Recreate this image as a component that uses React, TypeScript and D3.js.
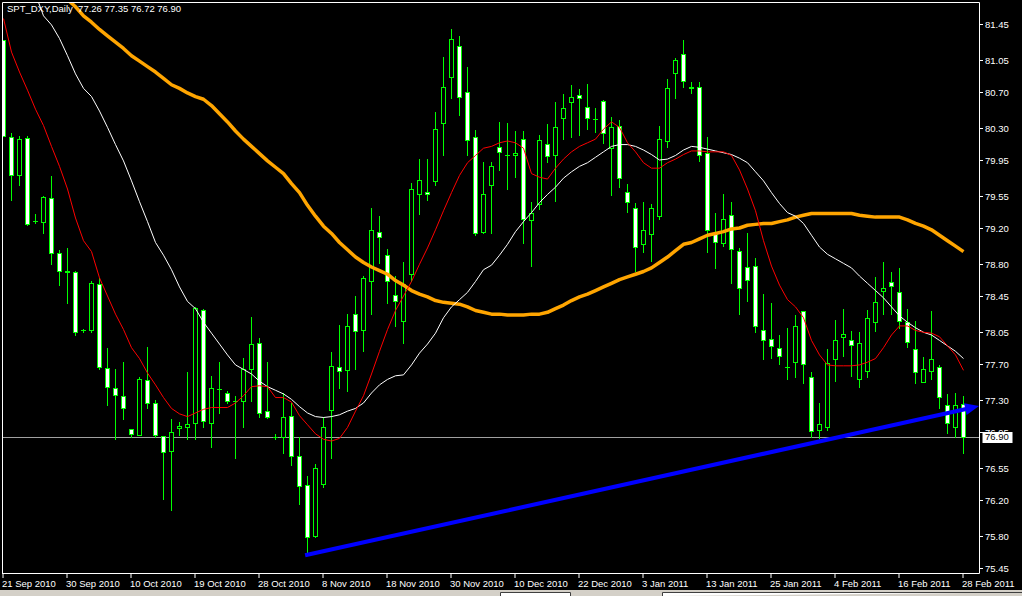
import React, { useEffect, useRef } from 'react';
import * as d3 from 'd3';

// daily bars, 21 Sep 2010 .. 28 Feb 2011 (MT4 counts Sunday bars too)
const opens = [
  81.27, 80.2, 79.79, 80.19, 79.28, 79.27, 79.53, 78.92, 78.73, 78.72,
  78.07, 78.07, 78.58, 77.66, 77.44, 77.35, 76.98, 76.92, 77.52, 77.27,
  76.91, 76.74, 76.99, 77.01, 77.05, 78.3, 77.05, 77.42, 77.38, 77.29,
  77.29, 77.64, 77.93, 77.18, 76.89, 76.89, 77.13, 76.68, 76.36, 75.8,
  76.38, 77.19, 77.67, 77.63, 78.25, 78.08, 78.62, 79.16, 78.9, 78.46,
  78.17, 78.69, 79.58, 79.6, 79.72, 80.36, 80.87, 81.21, 80.7, 80.2,
  79.16, 79.67, 80.09, 80.0, 80.0, 80.18, 79.29, 79.47, 80.13, 80.0,
  80.41, 80.59, 80.67, 80.54, 80.4, 80.6, 80.08, 80.32, 79.6, 79.42,
  79.02, 79.13, 79.33, 80.16, 80.91, 81.12, 80.74, 80.75, 80.03, 79.15,
  79.03, 79.34, 78.95, 78.77, 78.78, 78.08, 77.98, 77.88, 77.67, 77.72,
  78.28, 77.56, 76.97, 77.0, 77.76, 78.0, 77.96, 77.54, 77.62, 78.16,
  78.5, 78.6, 78.49, 78.16, 77.87, 77.5, 77.62, 77.67, 77.25, 77.0,
  77.26,
];
const highs = [
  81.27, 80.25, 80.21, 80.21, 79.35, 79.55, 79.77, 78.96, 78.98, 78.73,
  78.09, 78.61, 78.65, 77.88, 77.65, 77.72, 76.98, 77.56, 77.89, 77.3,
  76.91, 77.09, 77.06, 77.61, 78.33, 78.31, 77.57, 77.72, 77.4, 77.35,
  77.77, 78.22, 77.99, 77.72, 76.93, 77.38, 77.27, 76.9, 76.46, 76.6,
  77.11, 77.83, 78.13, 78.25, 78.45, 78.67, 79.42, 79.33, 78.97, 78.67,
  78.83, 79.7, 79.96, 79.96, 80.48, 81.09, 81.4, 81.32, 80.98, 80.28,
  79.93, 79.93, 80.37, 80.36, 80.27, 80.27, 79.49, 80.23, 80.35, 80.59,
  80.68, 80.78, 80.73, 80.79, 80.52, 80.61, 80.42, 80.39, 79.69, 79.48,
  79.49, 79.46, 80.32, 80.84, 81.07, 81.27, 80.81, 80.81, 80.2, 79.37,
  79.57, 79.49, 78.98, 79.14, 78.87, 78.47, 78.37, 78.02, 78.1, 78.24,
  78.29, 77.61, 77.27, 77.86, 78.18, 78.31, 78.06, 78.05, 78.3, 78.66,
  78.83, 78.71, 78.76, 78.31, 78.17, 77.78, 78.28, 77.69, 77.37, 77.38,
  77.35,
];
const lows = [
  80.21, 79.51, 79.67, 79.23, 79.25, 79.14, 78.8, 78.57, 78.37, 78.02,
  78.05, 78.05, 77.65, 77.25, 76.87, 77.09, 76.89, 76.92, 77.21, 76.89,
  76.21, 76.09, 76.92, 76.87, 76.87, 77.01, 76.78, 77.16, 77.27, 76.66,
  77.0, 77.29, 77.12, 77.1, 76.87, 76.72, 76.59, 76.16, 75.61, 75.79,
  76.34, 76.66, 77.44, 77.4, 77.64, 77.84, 78.25, 78.81, 78.37, 78.12,
  77.93, 78.62, 79.35, 79.51, 79.67, 80.0, 80.63, 80.45, 80.0, 79.12,
  79.14, 79.15, 79.84, 79.63, 79.76, 79.04, 78.78, 79.41, 79.93, 79.5,
  80.18, 80.2, 80.23, 80.29, 80.26, 80.14, 79.56, 79.65, 79.38, 78.73,
  78.94, 78.84, 79.3, 80.09, 80.63, 80.76, 80.69, 79.94, 78.94, 78.76,
  79.0, 78.59, 78.25, 78.39, 78.05, 77.76, 77.77, 77.7, 77.53, 77.56,
  77.49, 76.9, 76.88, 76.97, 77.51, 77.79, 77.57, 77.45, 77.56, 78.06,
  78.25, 78.25, 78.1, 77.89, 77.49, 77.5, 77.53, 77.21, 76.94, 76.89,
  76.72,
];
const closes = [
  80.21, 79.78, 80.18, 79.24, 79.28, 79.54, 78.92, 78.73, 78.72, 78.05,
  78.07, 78.59, 77.67, 77.45, 77.36, 77.21, 76.93, 77.53, 77.27, 76.92,
  76.73, 76.95, 77.02, 77.04, 78.32, 77.07, 77.43, 77.42, 77.29, 77.29,
  77.64, 77.92, 77.16, 77.12, 76.89, 77.12, 76.68, 76.35, 75.79, 76.55,
  77.0, 77.68, 77.62, 78.12, 78.06, 78.65, 79.18, 79.1, 78.61, 78.39,
  78.58, 79.63, 79.73, 79.58, 80.29, 80.75, 81.28, 80.65, 80.17, 79.15,
  79.58, 79.88, 80.04, 80.0, 80.03, 79.3, 79.37, 80.17, 79.99, 80.31,
  80.52, 80.65, 80.63, 80.41, 80.4, 80.25, 80.31, 79.75, 79.49, 78.99,
  79.18, 79.42, 80.18, 80.74, 81.05, 80.82, 80.76, 80.0, 79.18, 79.05,
  79.3, 78.97, 78.54, 78.63, 78.12, 77.97, 77.9, 77.79, 77.67, 78.12,
  77.7, 76.96, 77.04, 77.71, 77.97, 78.03, 77.91, 77.93, 78.21, 78.38,
  78.54, 78.56, 78.17, 77.94, 77.61, 77.64, 77.76, 77.34, 77.05, 77.25,
  76.9,
];

// moving averages (red fast, white middle, orange slow)
const fastMa = [
  81.51, 81.14, 80.92, 80.72, 80.51, 80.33, 80.1, 79.88, 79.63, 79.31,
  79.06, 78.94, 78.65, 78.45, 78.25, 78.08, 77.88, 77.76, 77.6, 77.47,
  77.33, 77.21, 77.15, 77.12, 77.16, 77.2, 77.22, 77.22, 77.22, 77.27,
  77.35, 77.45, 77.46, 77.45, 77.33, 77.33, 77.28, 77.13, 77.03, 76.93,
  76.87, 76.85, 76.88, 77.0, 77.18, 77.35, 77.59, 77.84, 78.08, 78.29,
  78.45, 78.61, 78.8, 78.98, 79.18, 79.39, 79.59, 79.78, 79.92, 80.0,
  80.08, 80.1, 80.14, 80.16, 80.14, 80.08, 79.8, 79.76, 79.74, 79.86,
  79.96, 80.04, 80.1, 80.14, 80.18, 80.29, 80.37, 80.31, 80.14, 80.04,
  79.92, 79.86, 79.86, 79.92, 79.96, 80.01, 80.05, 80.05, 80.04, 80.04,
  80.04, 80.0, 79.84, 79.63, 79.39, 79.06, 78.78, 78.57, 78.41, 78.33,
  78.21, 77.96, 77.8, 77.69, 77.68, 77.68, 77.68, 77.69, 77.72, 77.76,
  77.88, 78.02, 78.12, 78.12, 78.07, 78.05, 78.04, 78.0, 77.9, 77.8,
  77.63,
];
const midMa: (number | null)[] = [
  null, null, null, null, 81.78, 81.54, 81.44, 81.29, 81.1, 80.9,
  80.74, 80.65, 80.49, 80.31, 80.12, 79.94, 79.72, 79.49, 79.27, 79.04,
  78.9, 78.74, 78.55, 78.39, 78.31, 78.16, 78.04, 77.92, 77.8, 77.69,
  77.64, 77.59, 77.51, 77.45, 77.41, 77.37, 77.31, 77.23, 77.16, 77.12,
  77.11, 77.12, 77.14, 77.18, 77.21, 77.27, 77.38, 77.47, 77.53, 77.57,
  77.58, 77.69, 77.82, 77.92, 78.04, 78.21, 78.33, 78.41, 78.49, 78.61,
  78.74, 78.79, 78.9, 79.02, 79.16, 79.27, 79.37, 79.48, 79.57, 79.65,
  79.75, 79.82, 79.88, 79.92, 79.98, 80.04, 80.1, 80.12, 80.12, 80.1,
  80.06, 80.01, 79.95, 79.96, 80.0, 80.06, 80.1, 80.09, 80.07, 80.05,
  80.03, 80.01, 79.97, 79.92, 79.82, 79.72, 79.59, 79.47, 79.37, 79.33,
  79.25, 79.12, 78.99, 78.91, 78.86, 78.81, 78.76, 78.67, 78.59, 78.51,
  78.43, 78.33, 78.23, 78.16, 78.1, 78.05, 78.02, 77.96, 77.9, 77.84,
  77.76,
];
const slowMa: (number | null)[] = [
  null, null, null, null, null, null, null, null, 81.72, 81.64,
  81.54, 81.47, 81.39, 81.32, 81.25, 81.18, 81.1, 81.04, 80.98, 80.92,
  80.85, 80.78, 80.74, 80.69, 80.65, 80.62, 80.55, 80.46, 80.37, 80.27,
  80.18, 80.1, 80.02, 79.94, 79.87, 79.8, 79.69, 79.59, 79.45, 79.33,
  79.22, 79.14, 79.04, 78.96, 78.88, 78.82, 78.77, 78.73, 78.69, 78.62,
  78.57, 78.51, 78.47, 78.44, 78.4, 78.38, 78.37, 78.36, 78.33, 78.29,
  78.27, 78.25, 78.25, 78.24, 78.24, 78.24, 78.25, 78.25, 78.27, 78.31,
  78.35, 78.4, 78.44, 78.47, 78.51, 78.55, 78.59, 78.63, 78.66, 78.69,
  78.72, 78.76, 78.82, 78.88, 78.95, 79.02, 79.04, 79.08, 79.12, 79.14,
  79.16, 79.19, 79.2, 79.23, 79.24, 79.25, 79.25, 79.27, 79.29, 79.32,
  79.34, 79.36, 79.36, 79.36, 79.36, 79.36, 79.36, 79.34, 79.33, 79.32,
  79.32, 79.32, 79.32, 79.29, 79.25, 79.22, 79.18, 79.12, 79.06, 79.0,
  78.94,
];

// one date label every 8 bars
const dateLabels = [
  '21 Sep 2010', '30 Sep 2010', '10 Oct 2010', '19 Oct 2010',
  '28 Oct 2010', '8 Nov 2010', '18 Nov 2010', '30 Nov 2010',
  '10 Dec 2010', '22 Dec 2010', '3 Jan 2011', '13 Jan 2011',
  '25 Jan 2011', '4 Feb 2011', '16 Feb 2011', '28 Feb 2011',
];
const priceTicks = [
  81.45, 81.05, 80.7, 80.3, 79.95, 79.55, 79.2, 78.8, 78.45,
  78.05, 77.7, 77.3, 76.95, 76.55, 76.2, 75.8, 75.45,
];

// hand drawn trend line: [bar, price]
const trendLine: [number, number][] = [
  [37.7, 75.59],
  [120.6, 77.21],
];
const bidPrice = 76.9;
const header = 'SPT_DXY,Daily  77.26 77.35 76.72 76.90';

const FONT = '"Liberation Sans", Arial, sans-serif';

const App: React.FC = () => {
  const svgRef = useRef<SVGSVGElement>(null);

  useEffect(() => {
    if (!svgRef.current) return;
    const svg = d3.select(svgRef.current);
    svg.selectAll('*').remove();

    const width = 1022;
    const height = 596;

    const xScale = d3.scaleLinear().domain([0, 120]).range([3.5, 963.5]);
    const yScale = d3.scaleLinear().domain([75.45, 81.45]).range([568, 24]);
    const py = (v: number) => Math.round(yScale(v)) + 0.5;

    svg.append('rect').attr('width', width).attr('height', height).attr('fill', '#000');

    svg
      .append('defs')
      .append('clipPath')
      .attr('id', 'plot-clip')
      .append('rect')
      .attr('x', 3)
      .attr('y', 3)
      .attr('width', 976)
      .attr('height', 570);

    const plot = svg.append('g').attr('clip-path', 'url(#plot-clip)');

    // bid line
    plot
      .append('line')
      .attr('x1', 2)
      .attr('x2', 980)
      .attr('y1', py(bidPrice))
      .attr('y2', py(bidPrice))
      .attr('stroke', '#a0a0a0')
      .attr('stroke-width', 1);

    // ### Candles
    const candles = plot.append('g');
    d3.range(opens.length).forEach(i => {
      const cx = xScale(i);
      const o = opens[i];
      const c = closes[i];
      candles
        .append('line')
        .attr('x1', cx)
        .attr('x2', cx)
        .attr('y1', Math.round(yScale(highs[i])))
        .attr('y2', Math.round(yScale(lows[i])) + 1)
        .attr('stroke', '#00ff00')
        .attr('stroke-width', 1);

      const top = Math.round(yScale(Math.max(o, c)));
      const bottom = Math.round(yScale(Math.min(o, c)));
      if (bottom - top < 1) {
        candles
          .append('line')
          .attr('x1', cx - 2.5)
          .attr('x2', cx + 2.5)
          .attr('y1', top + 0.5)
          .attr('y2', top + 0.5)
          .attr('stroke', '#00ff00')
          .attr('stroke-width', 1);
      } else {
        candles
          .append('rect')
          .attr('x', cx - 2)
          .attr('y', top + 0.5)
          .attr('width', 4)
          .attr('height', bottom - top)
          .attr('fill', c > o ? '#000' : '#fff')
          .attr('stroke', '#00ff00')
          .attr('stroke-width', 1);
      }
    });

    // ### Moving averages
    const maLine = d3
      .line<number | null>()
      .defined(d => d !== null)
      .x((_, i) => xScale(i))
      .y(d => yScale(d as number));

    plot
      .append('path')
      .datum(slowMa)
      .attr('fill', 'none')
      .attr('stroke', '#ffa500')
      .attr('stroke-width', 3.5)
      .attr('stroke-linejoin', 'round')
      .attr('d', maLine);

    plot
      .append('path')
      .datum(midMa)
      .attr('fill', 'none')
      .attr('stroke', '#ffffff')
      .attr('stroke-width', 1)
      .attr('d', maLine);

    plot
      .append('path')
      .datum(fastMa as (number | null)[])
      .attr('fill', 'none')
      .attr('stroke', '#ff0000')
      .attr('stroke-width', 1)
      .attr('d', maLine);

    // ### Trend line with arrow head
    const [p0, p1] = trendLine.map(([b, v]) => [xScale(b), yScale(v)]);
    plot
      .append('line')
      .attr('x1', p0[0])
      .attr('y1', p0[1])
      .attr('x2', p1[0])
      .attr('y2', p1[1])
      .attr('stroke', '#0000ff')
      .attr('stroke-width', 4);

    const dx = p1[0] - p0[0];
    const dy = p1[1] - p0[1];
    const len = Math.hypot(dx, dy);
    const ux = dx / len;
    const uy = dy / len;
    const tip = [p1[0] + ux * 11, p1[1] + uy * 11];
    const base = [p1[0] - ux * 3, p1[1] - uy * 3];
    plot
      .append('path')
      .attr(
        'd',
        `M${tip[0]},${tip[1]}L${base[0] - uy * 6},${base[1] + ux * 6}L${base[0] + uy * 6},${base[1] - ux * 6}Z`
      )
      .attr('fill', '#0000ff');

    // ### Frame
    svg
      .append('path')
      .attr('d', 'M2.5,574V2.5H979.5V573.5H2')
      .attr('fill', 'none')
      .attr('stroke', '#fff')
      .attr('stroke-width', 1);

    // ### Price axis
    const yAxis = svg.append('g');
    priceTicks.forEach(v => {
      yAxis
        .append('line')
        .attr('x1', 980)
        .attr('x2', 983)
        .attr('y1', py(v))
        .attr('y2', py(v))
        .attr('stroke', '#fff');
      yAxis
        .append('text')
        .attr('x', 985)
        .attr('y', yScale(v) + 3.5)
        .attr('fill', '#fff')
        .attr('font-family', FONT)
        .attr('font-size', '9.5px')
        .text(v.toFixed(2));
    });

    yAxis
      .append('rect')
      .attr('x', 982.5)
      .attr('y', py(bidPrice) - 5.5)
      .attr('width', 30)
      .attr('height', 11)
      .attr('fill', '#fff');
    yAxis
      .append('text')
      .attr('x', 985)
      .attr('y', yScale(bidPrice) + 3.5)
      .attr('fill', '#000')
      .attr('font-family', FONT)
      .attr('font-size', '9.5px')
      .text(bidPrice.toFixed(2));

    // ### Time axis
    const xAxis = svg.append('g');
    dateLabels.forEach((label, k) => {
      const tx = xScale(k * 8) - 0.5;
      xAxis
        .append('line')
        .attr('x1', tx)
        .attr('x2', tx)
        .attr('y1', 574)
        .attr('y2', 578)
        .attr('stroke', '#fff');
      xAxis
        .append('text')
        .attr('x', tx - 1)
        .attr('y', 587)
        .attr('fill', '#fff')
        .attr('font-family', FONT)
        .attr('font-size', '9.5px')
        .text(label);
    });

    // ### Header
    svg
      .append('text')
      .attr('x', 7)
      .attr('y', 12)
      .attr('fill', '#fff')
      .attr('font-family', FONT)
      .attr('font-size', '9.5px')
      .attr('xml:space', 'preserve')
      .style('white-space', 'pre')
      .text(header);

    // ### Tab strip at the bottom of the window
    svg.append('rect').attr('x', 0).attr('y', 590).attr('width', width).attr('height', 6).attr('fill', '#d4d0c8');
    svg
      .append('path')
      .attr('d', 'M500.5,596V592.5H570.5V596M662.5,596V592.5H1022')
      .attr('fill', '#fff')
      .attr('stroke', '#404040');
  }, []);

  return (
    <div style={{ width: '100%' }}>
      <svg
        ref={svgRef}
        width={1022}
        height={596}
        style={{ position: 'absolute', left: 0, top: 0, display: 'block' }}
      ></svg>
    </div>
  );
};

export default App;
